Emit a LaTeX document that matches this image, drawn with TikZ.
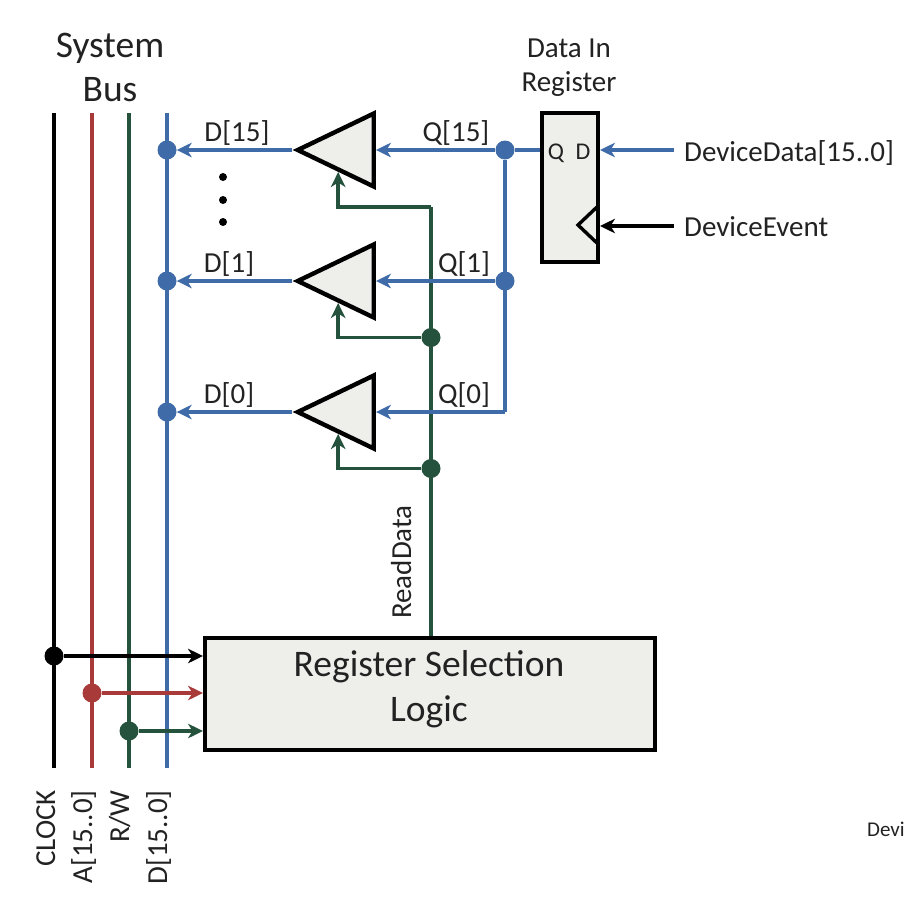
\documentclass[tikz,border=0pt]{standalone}
\usepackage{fontspec}
\setmainfont{Carlito}
\usetikzlibrary{arrows.meta,shapes.geometric,calc}
\definecolor{busblue}{HTML}{3F6BA8}
\definecolor{busred}{HTML}{A83A3A}
\definecolor{busgreen}{HTML}{24523D}
\definecolor{boxfill}{HTML}{EEEFEB}
\definecolor{ink}{HTML}{222222}
\tikzset{
  x=1pt,y=-1pt,
  wire/.style={line width=3.8pt},
  arrowed/.style={wire,-{Stealth[length=15pt,width=14.5pt,inset=4.5pt]}},
  block/.style={draw=black,line width=4.4pt,fill=boxfill,inner sep=0pt},
  buffer/.style={shape=isosceles triangle,shape border rotate=180,isosceles triangle stretches,
    draw=black,line width=4.4pt,fill=boxfill,inner sep=0pt,minimum width=73pt,minimum height=76pt,anchor=apex,miter limit=10},
  dot/.style={circle,fill=#1,inner sep=0pt,minimum size=19pt},
  tiny dot/.style={circle,fill=black,inner sep=0pt,minimum size=8pt},
  lab/.style={text=ink,font=\fontsize{29}{32}\selectfont,inner sep=0pt,anchor=base},
  big/.style={text=ink,font=\fontsize{37.5}{40}\selectfont,inner sep=0pt,anchor=base},
  small/.style={text=ink,font=\fontsize{24}{26}\selectfont,inner sep=0pt,anchor=base},
  vert/.style={lab,rotate=90,anchor=base east},
}
\begin{document}
\begin{tikzpicture}
\useasboundingbox (0,0) rectangle (904,914);
% bus end points
\coordinate (clocktop) at (54,113);
\coordinate (clockbot) at (54,768);
\coordinate (addrtop) at (92,113);
\coordinate (addrbot) at (92,768);
\coordinate (rwtop) at (129,113);
\coordinate (rwbot) at (129,768);
\coordinate (datatop) at (167,113);
\coordinate (databot) at (167,768);
\draw[wire,black] (clocktop) -- (clockbot);
\draw[wire,busred] (addrtop) -- (addrbot);
\draw[wire,busgreen] (rwtop) -- (rwbot);
\draw[wire,busblue] (datatop) -- (databot);
% logic box
\node[block,minimum width=450pt,minimum height=111.6pt,anchor=north west] (logic) at (203,636) {};
\node[big] (logic1) at (429,676) {Register Selection};
\node[big] (logic2) at (429,721) {Logic};
\node[dot=black] (dclock) at (54,656) {};
\node[dot=busred] (daddr) at (92,693) {};
\node[dot=busgreen] (drw) at (129,731) {};
\coordinate (lclock) at (logic.west |- dclock);
\coordinate (laddr) at (logic.west |- daddr);
\coordinate (lrw) at (logic.west |- drw);
\draw[arrowed,busgreen] (drw) -- (lrw);
\draw[arrowed,busred] (daddr) -- (laddr);
\draw[arrowed,black] (dclock) -- (lclock);
% buffers
\node[buffer] (b15) at (292,150) {};
\node[buffer] (b1) at (292,281) {};
\node[buffer] (b0) at (292,412) {};
% junctions
\node[dot=busblue] (d15) at (167,150) {};
\node[dot=busblue] (d1) at (167,281) {};
\node[dot=busblue] (d0) at (167,412) {};
\node[dot=busblue] (q15) at (505,150) {};
\node[dot=busblue] (q1) at (505,281) {};
\coordinate (q0) at (505,412);
\node[dot=busgreen] (en1) at (431,337.5) {};
\node[dot=busgreen] (en0) at (431,468.5) {};
\coordinate (encorner) at (431,207);
% read data
\draw[wire,busgreen] (logic.north -| en0) -- (encorner);
\draw[arrowed,busgreen] (encorner) -| ($(b15.apex)!0.55!(b15.left corner)$);
\draw[arrowed,busgreen] (en1) -| ($(b1.apex)!0.55!(b1.left corner)$);
\draw[arrowed,busgreen] (en0) -| ($(b0.apex)!0.55!(b0.left corner)$);
% outputs
\draw[arrowed,busblue] (b15.apex) -- (d15);
\draw[arrowed,busblue] (b1.apex) -- (d1);
\draw[arrowed,busblue] (b0.apex) -- (d0);
% register
\node[block,minimum width=55.6pt,minimum height=148.6pt,anchor=north west] (reg) at (540,111) {};
\node[small] (regq) at (556,159) {Q};
\node[small] (regd) at (583,159) {D};
\draw[line width=3.4pt,black,line join=miter] (597,207) -- (578,225) -- (597,243);
% inputs to buffers
\draw[wire,busblue] (reg.west |- q15) -- (q15);
\draw[arrowed,busblue] (q15) -- (b15.lower side);
\draw[arrowed,busblue] (q1) -- (b1.lower side);
\draw[wire,busblue,line join=miter] (q15) -- (q0);
\draw[arrowed,busblue] (q0) -- (b0.lower side);
% device inputs
\coordinate (devdata) at (674,150);
\coordinate (devevent) at (674,226);
\draw[arrowed,busblue] (devdata) -- (devdata -| reg.east);
\draw[arrowed,black] (devevent) -- (devevent -| reg.east);
% ellipsis
\node[tiny dot] (e1) at (223,177) {};
\node[tiny dot] (e2) at (223,200) {};
\node[tiny dot] (e3) at (223,222) {};
% labels
\node[big] (t1) at (110,57) {System};
\node[big] (t2) at (110,101) {Bus};
\node[lab] (t3) at (569,57) {Data In};
\node[lab] (t4) at (569,91) {Register};
\node[lab] (td15) at (237,141) {D[15]};
\node[lab] (td1) at (229,272) {D[1]};
\node[lab] (td0) at (229,403) {D[0]};
\node[lab] (tq15) at (456,141) {Q[15]};
\node[lab] (tq1) at (464,272) {Q[1]};
\node[lab] (tq0) at (464,403) {Q[0]};
\node[lab,anchor=base west] (tdd) at (684,161) {DeviceData[15..0]};
\node[lab,anchor=base west] (tde) at (684,236) {DeviceEvent};
\node[lab,rotate=90] (trd) at (411,562) {ReadData};
\node[vert] (tc) at (55,790) {CLOCK};
\node[vert] (ta) at (92,790) {A[15..0]};
\node[vert] (tr) at (129,790) {R/W};
\node[vert] (td) at (167,790) {D[15..0]};
\node[text=ink,font=\fontsize{21}{23}\selectfont,inner sep=0pt,anchor=base west] (tdevi) at (867,836) {Devi};
\end{tikzpicture}
\end{document}
